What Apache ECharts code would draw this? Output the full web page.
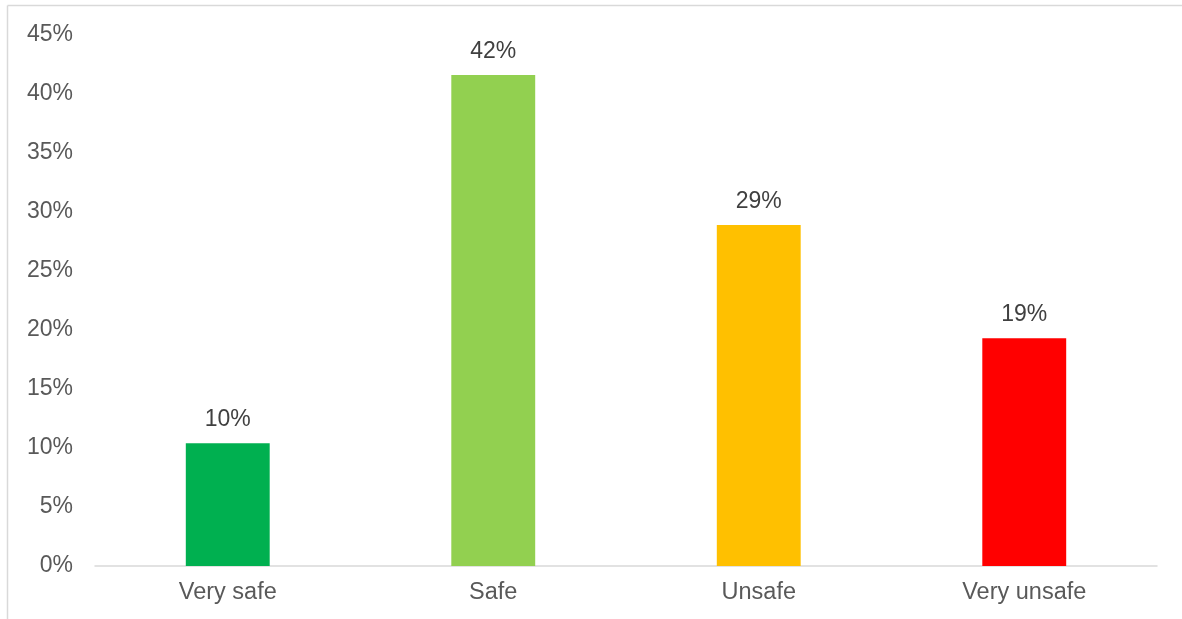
<!DOCTYPE html>
<html><head><meta charset="utf-8">
<script src="https://cdn.jsdelivr.net/npm/echarts@6/dist/echarts.min.js"></script>
<style>html,body{margin:0;padding:0;background:#fff;}#c{width:1182px;height:619px;}</style>
</head><body><div id="c"></div>
<script>
const categories = ['Very safe', 'Safe', 'Unsafe', 'Very unsafe'];
const values = [10.4, 41.6, 28.9, 19.3];
const barColors = ['#00B050', '#92D050', '#FFC000', '#FF0000'];
const yTicks = [0, 5, 10, 15, 20, 25, 30, 35, 40, 45];

const chart = echarts.init(document.getElementById('c'), null, {renderer: 'canvas'});
chart.setOption({
  animation: false,
  backgroundColor: '#fff',
  graphic: [
    {type: 'line', shape: {x1: 7.5, y1: 5.5, x2: 7.5, y2: 619}, style: {stroke: '#d9d9d9', lineWidth: 1.5}},
    {type: 'line', shape: {x1: 7.5, y1: 5.5, x2: 1182, y2: 5.5}, style: {stroke: '#d9d9d9', lineWidth: 1.5}}
  ],
  grid: {left: 95, right: 25, top: 35, bottom: 53, containLabel: false},
  xAxis: {
    type: 'category',
    data: categories,
    axisLine: {lineStyle: {color: '#d9d9d9', width: 1.5}},
    axisTick: {show: false},
    axisLabel: {color: '#595959', fontSize: 23.5, fontFamily: 'Liberation Sans, Arial, sans-serif', margin: 15}
  },
  yAxis: {
    type: 'value',
    min: yTicks[0], max: yTicks[yTicks.length - 1], interval: 5,
    axisLine: {show: false},
    axisTick: {show: false},
    splitLine: {show: false},
    axisLabel: {color: '#595959', fontSize: 23, fontFamily: 'Liberation Sans, Arial, sans-serif', margin: 22, formatter: v => v + '%'}
  },
  series: [{
    type: 'bar',
    barWidth: '31.6%',
    data: values.map((v, i) => ({value: v, itemStyle: {color: barColors[i]}})),
    label: {
      show: true, position: 'top', distance: 12,
      color: '#404040', fontSize: 23, fontFamily: 'Liberation Sans, Arial, sans-serif',
      formatter: p => Math.round(p.value) + '%'
    }
  }]
});
</script></body></html>
